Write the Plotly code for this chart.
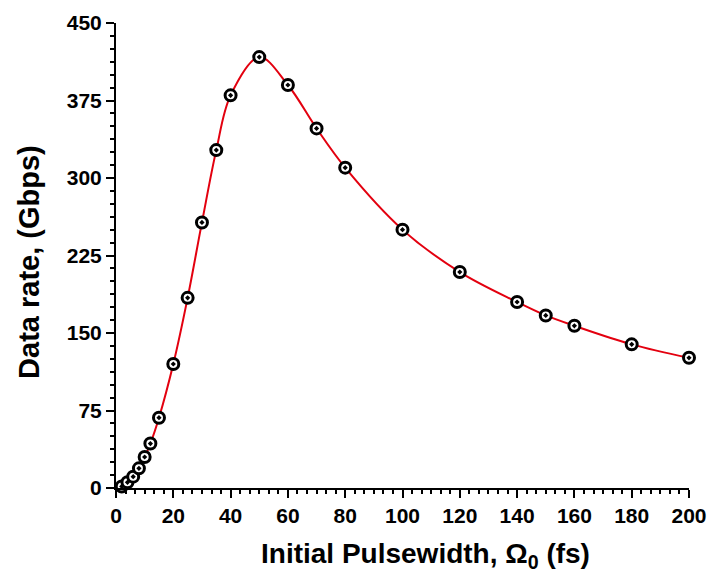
import plotly.graph_objects as go

# Initial pulse width (fs) and corresponding data rate (Gbps)
pulsewidth_fs = [2, 4, 6, 8, 10, 12, 15, 20, 25, 30, 35, 40, 50, 60, 70, 80,
                 100, 120, 140, 150, 160, 180, 200]
data_rate_gbps = [1.5, 5.5, 11, 19, 30, 43, 68, 120, 184, 257, 327, 380, 417,
                  390, 348, 310, 250, 209, 180, 167, 157, 139, 126]

x_ticks = [0, 20, 40, 60, 80, 100, 120, 140, 160, 180, 200]
y_ticks = [0, 75, 150, 225, 300, 375, 450]

x_title = "Initial Pulsewidth, Ω<sub>0</sub> (fs)"
y_title = "Data rate, (Gbps)"

font_family = "Liberation Sans, Arial, sans-serif"
title_font = dict(family=font_family, size=28, color="black", weight="bold")

fig = go.Figure()

# Smooth fitted curve
fig.add_trace(go.Scatter(
    x=pulsewidth_fs, y=data_rate_gbps, mode="lines",
    line=dict(color="#e3000f", width=2, shape="spline", smoothing=1.0),
    hoverinfo="skip", cliponaxis=False,
))

# Computed points
fig.add_trace(go.Scatter(
    x=pulsewidth_fs, y=data_rate_gbps, mode="markers",
    marker=dict(symbol="circle-dot", size=11, color="white",
                line=dict(color="black", width=3)),
    cliponaxis=False,
))

axis_common = dict(
    showgrid=False, zeroline=False, showline=True, linecolor="black",
    linewidth=2, ticks="outside", ticklen=8, tickwidth=2, tickcolor="black",
    tickfont=dict(family=font_family, size=21, color="black", weight="bold"),
    mirror=False, automargin=False,
)

fig.update_xaxes(
    **axis_common, range=[0, 200], tickvals=x_ticks,
    minor=dict(ticks="outside", ticklen=4, tickwidth=1.5, tickcolor="black",
               tick0=0, dtick=20 / 6, showgrid=False),
)
fig.update_yaxes(
    **axis_common, range=[0, 450], tickvals=y_ticks,
    minor=dict(ticks="outside", ticklen=4, tickwidth=1.5, tickcolor="black",
               tick0=0, dtick=12.5, showgrid=False),
)

# Axis titles placed as paper-anchored annotations
fig.add_annotation(
    text=x_title, xref="paper", yref="paper", x=0.541, y=-0.146,
    xanchor="center", yanchor="middle", showarrow=False, font=title_font,
)
fig.add_annotation(
    text=y_title, xref="paper", yref="paper", x=-0.152, y=0.486,
    xanchor="center", yanchor="middle", textangle=-90, showarrow=False,
    font=dict(title_font, size=29),
)

fig.update_layout(
    width=708, height=573,
    margin=dict(l=116, r=19, t=23, b=85),
    plot_bgcolor="white", paper_bgcolor="white",
    showlegend=False,
)

fig.write_html("out.html")
